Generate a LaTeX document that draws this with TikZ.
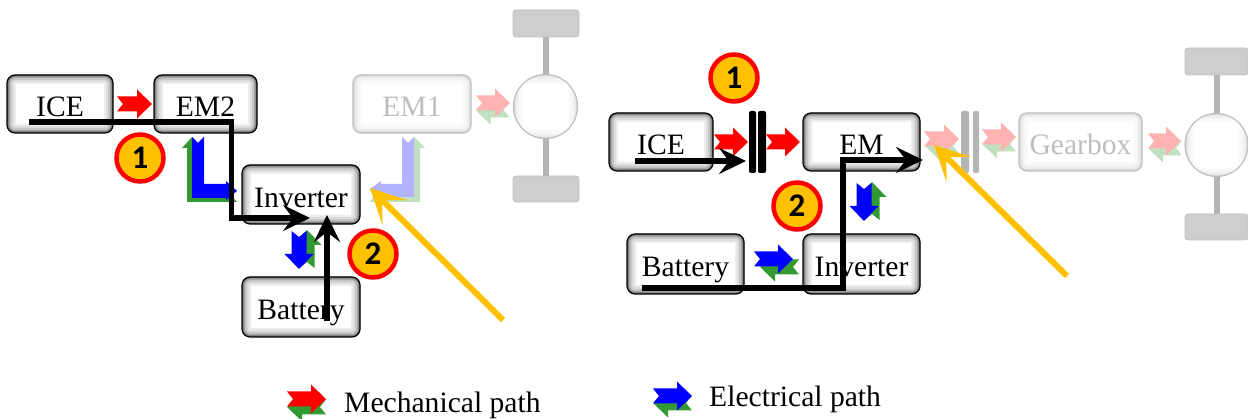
\documentclass[tikz,border=0pt]{standalone}
\usepackage{fontspec}
\setmainfont{Liberation Serif}
\newfontfamily\badgefont{Carlito}
\usetikzlibrary{arrows.meta,shapes,positioning,calc}
\definecolor{mechred}{RGB}{255,0,0}
\definecolor{backgreen}{RGB}{51,153,51}
\definecolor{elecblue}{RGB}{0,0,255}
\definecolor{fadered}{RGB}{255,178,178}
\definecolor{fadegreen}{RGB}{192,224,192}
\definecolor{fadeblue}{RGB}{178,178,255}
\definecolor{fadegray}{RGB}{190,190,190}
\definecolor{partgray}{RGB}{180,180,180}
\definecolor{badgeyellow}{RGB}{255,192,0}
\tikzset{
    pics/blockarr/.style={code={
        \fill[pic actions] ({-#1/2},-7.5) -- ({-#1/2+6},0) -- ({-#1/2},7.5) -- ({#1/2-15},7.5)
            -- ({#1/2-15},14.5) -- ({#1/2},0) -- ({#1/2-15},-14.5) -- ({#1/2-15},-7.5) -- cycle;
    }},
    boxglow/.style={path picture={
        \foreach \w/\c in {18/7,14/13,10/22,6/36,3/55}{
            \draw[line width=\w pt,#1!\c!white,rounded corners=8pt]
                (path picture bounding box.south west) rectangle (path picture bounding box.north east);
        }
    }},
    boxnode/.style={draw=black,line width=1.2pt,fill=white,rounded corners=8pt,inner sep=0pt,
        outer sep=0pt,minimum height=58pt,minimum width=#1,boxglow=black,
        text height=26pt,text depth=0pt,font=\fontsize{29.6}{32}\selectfont},
    fadenode/.style={boxnode=#1,draw=fadegray,text=fadegray,boxglow=fadegray},
    badge/.style={circle,draw=mechred,line width=4.5pt,fill=badgeyellow,minimum size=47pt,inner sep=0pt,
        font=\badgefont\bfseries\fontsize{33}{33}\selectfont},
    legendtext/.style={anchor=base west,inner sep=0pt,font=\fontsize{29.6}{32}\selectfont},
    blackpath/.style={draw=black,line width=5.5pt,-{Stealth[length=27pt,width=26pt,inset=10pt]}},
    yellowpath/.style={draw=badgeyellow,line width=6pt,-{Stealth[length=35pt,width=35pt,inset=18pt]}},
    tyre/.style={fill=partgray!65!white,draw=partgray!85!white,line width=.8pt,rounded corners=3pt},
    axle/.style={draw=partgray,line width=6pt},
    wheel/.style={circle,draw=fadegray,line width=1.2pt,fill=white,minimum size=64pt,inner sep=0pt,boxglow=fadegray}
}
\begin{document}
\begin{tikzpicture}[x=1pt,y=-1pt]
    \useasboundingbox (0,0) rectangle (1248,419);

    % left axle
    \draw[axle] (546,30) -- (546,190);
    \draw[tyre] (513,10) rectangle (579,37);
    \draw[tyre] (513,176) rectangle (579,202);
    \node[wheel] (wheelA) at (545.5,106.5) {};

    % left boxes
    \node[boxnode=106pt] (iceA) at (60,104) {ICE};
    \node[boxnode=103pt] (emtwo) at (205.5,104) {EM2};
    \node[boxnode=118pt,minimum height=59pt] (invA) at (301,194.5) {Inverter};
    \node[boxnode=118pt,minimum height=60pt] (batA) at (301,307) {Battery};
    \node[fadenode=118pt] (emone) at (412,104) {EM1};

    % left block arrows
    \pic[fill=mechred] at (134.5,104) {blockarr=35};
    \pic[fill=fadegreen,rotate=180] at (492.5,110) {blockarr=34};
    \pic[fill=fadered] at (493,103) {blockarr=34};
    \pic[fill=backgreen,rotate=90] at (307,249) {blockarr=38};
    \pic[fill=elecblue,rotate=-90] at (299,250) {blockarr=38};

    % inverter to EM2
    \fill[backgreen] (182,148) -- (192,137) -- (202,148) -- (198,148) -- (198,190) -- (237,190)
        -- (231,196) -- (237,202) -- (187,202) -- (187,148) -- cycle;
    \fill[elecblue] (192,137) -- (198,143) -- (204,137) -- (204,184) -- (226,184) -- (226,181)
        -- (237,191) -- (226,200) -- (226,198) -- (192,198) -- cycle;

    % inverter to EM1
    \fill[fadegreen] (425,148) -- (414,137) -- (403,148) -- (407,148) -- (407,190) -- (369,190)
        -- (375,196) -- (369,202) -- (420,202) -- (420,148) -- cycle;
    \fill[fadeblue] (402,137) -- (408,143) -- (414,137) -- (414,197) -- (381,197) -- (381,199)
        -- (370,189) -- (381,181) -- (381,184) -- (402,184) -- cycle;

    % left paths
    \coordinate (pathAstart) at (29,122);
    \coordinate (pathAbendA) at (231.5,122);
    \coordinate (pathAbendB) at (231.5,218);
    \coordinate (pathAend) at (310,218);
    \coordinate (pathBstart) at (327,321);
    \coordinate (pathBend) at (327,215);
    \coordinate (yellowAstart) at (503,320);
    \coordinate (yellowAend) at (370,188);
    \draw[blackpath] (pathAstart) -- (pathAbendA) -- (pathAbendB) -- (pathAend);
    \draw[blackpath] (pathBstart) -- (pathBend);
    \draw[yellowpath] (yellowAstart) -- (yellowAend);
    \node[badge] (badgeAone) at (140,158) {1};
    \node[badge] (badgeAtwo) at (373,254) {2};

    % right axle
    \draw[axle] (1217,60) -- (1217,230);
    \draw[tyre] (1185,48) rectangle (1248,75);
    \draw[tyre] (1185,214) rectangle (1248,240);
    \node[wheel,minimum size=63pt] (wheelB) at (1216.5,145) {};

    % right boxes
    \node[boxnode=104pt] (iceB) at (661,142) {ICE};
    \node[boxnode=117pt] (emB) at (861.5,142) {EM};
    \node[boxnode=117pt,minimum height=60pt] (batB) at (685.5,264) {Battery};
    \node[boxnode=117pt,minimum height=60pt] (invB) at (861.5,264) {Inverter};
    \node[fadenode=123pt] (gearbox) at (1080.5,142) {Gearbox};

    % clutches
    \fill[black,rounded corners=2pt] (749,111) rectangle (756,173);
    \fill[black,rounded corners=2pt] (758,111) rectangle (766,173);
    \fill[partgray,rounded corners=2pt] (961,111) rectangle (969,173);
    \fill[partgray,rounded corners=2pt] (973,111) rectangle (979,173);

    % right block arrows
    \pic[fill=mechred] at (731,142) {blockarr=34};
    \pic[fill=mechred] at (783,142) {blockarr=34};
    \pic[fill=fadegreen,rotate=180] at (942,146) {blockarr=34};
    \pic[fill=fadered] at (941.5,139) {blockarr=35};
    \pic[fill=fadegreen,rotate=180] at (999,144) {blockarr=34};
    \pic[fill=fadered] at (999,137) {blockarr=34};
    \pic[fill=fadegreen,rotate=180] at (1165,148) {blockarr=34};
    \pic[fill=fadered] at (1164.5,141) {blockarr=33};
    \pic[fill=backgreen,rotate=90] at (872,201) {blockarr=38};
    \pic[fill=elecblue,rotate=-90] at (864,202) {blockarr=38};
    \pic[fill=backgreen,rotate=180] at (779.5,267) {blockarr=39};
    \pic[fill=elecblue] at (773.5,259) {blockarr=39};

    % right paths
    \coordinate (pathCstart) at (635,161);
    \coordinate (pathCend) at (746,161);
    \coordinate (pathDstart) at (642,288);
    \coordinate (pathDbendA) at (843,288);
    \coordinate (pathDbendB) at (843,160);
    \coordinate (pathDend) at (923,160);
    \coordinate (yellowBstart) at (1067,276);
    \coordinate (yellowBend) at (934,145);
    \draw[blackpath] (pathCstart) -- (pathCend);
    \draw[blackpath] (pathDstart) -- (pathDbendA) -- (pathDbendB) -- (pathDend);
    \draw[yellowpath] (yellowBstart) -- (yellowBend);
    \node[badge] (badgeBone) at (734,78) {1};
    \node[badge] (badgeBtwo) at (797,206) {2};

    % legend
    \pic[fill=backgreen,rotate=180] at (306.5,407) {blockarr=39};
    \pic[fill=mechred] at (306.5,399) {blockarr=39};
    \pic[fill=backgreen,rotate=180] at (672.5,403) {blockarr=39};
    \pic[fill=elecblue] at (672.5,396) {blockarr=39};
    \node[legendtext] (legendmech) at (344,413) {Mechanical path};
    \node[legendtext] (legendelec) at (709,407) {Electrical path};
\end{tikzpicture}
\end{document}
